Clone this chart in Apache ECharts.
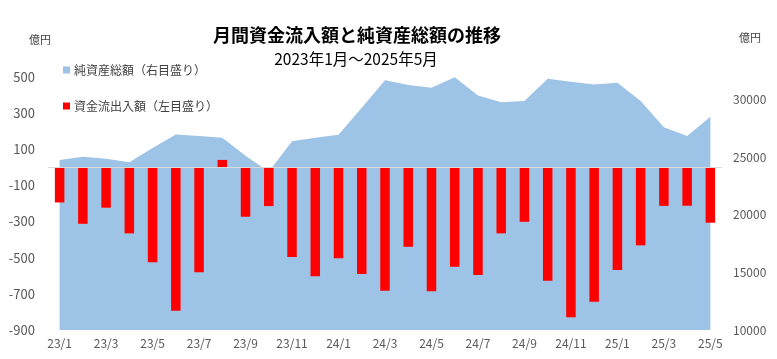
<!DOCTYPE html>
<html>
<head>
<meta charset="utf-8">
<script src="https://cdn.jsdelivr.net/npm/echarts@6/dist/echarts.min.js"></script>
<style>
html,body{margin:0;padding:0;background:#fff;}
#c{width:777px;height:359px;}
</style>
</head>
<body>
<div id="c"></div>
<script>
const categories = ['23/1','23/2','23/3','23/4','23/5','23/6','23/7','23/8','23/9','23/10','23/11','23/12',
  '24/1','24/2','24/3','24/4','24/5','24/6','24/7','24/8','24/9','24/10','24/11','24/12',
  '25/1','25/2','25/3','25/4','25/5'];
const flowValues = [-195,-313,-224,-366,-526,-793,-581,40,-274,-215,-497,-603,
  -504,-591,-683,-440,-686,-550,-596,-366,-302,-628,-830,-744,
  -569,-432,-214,-213,-307];
const assetValues = [24760,25050,24880,24580,25800,26990,26840,26700,25140,23750,26400,26700,
  26960,29300,31700,31270,31040,31950,30370,29790,29880,31820,31560,31330,
  31470,29880,27620,26840,28520];
const leftTicks = {min:-900, max:500, interval:200};
const rightTicks = {min:10000, max:32000, interval:5000};
const seriesNames = ['純資産総額（右目盛り）','資金流出入額（左目盛り）'];
const titleText = '月間資金流入額と純資産総額の推移';
const subtitleText = '2023年1月～2025年5月';
const unitText = '億円';

const FONT = '"Noto Sans CJK JP", "Noto Sans", sans-serif';
const chart = echarts.init(document.getElementById('c'));
chart.setOption({
  animation: false,
  textStyle: {fontFamily: FONT},
  graphic: [
    {type:'text', x:357, y:35, style:{text:titleText, fontFamily:FONT, fontSize:18, fontWeight:'bold', fill:'#000', align:'center', verticalAlign:'middle'}},
    {type:'text', x:356, y:59, style:{text:subtitleText, fontFamily:FONT, fontSize:15.5, fill:'#000', align:'center', verticalAlign:'middle'}},
    {type:'text', x:40, y:40, style:{text:unitText, fontFamily:FONT, fontSize:11, fill:'#404040', align:'center', verticalAlign:'middle'}},
    {type:'text', x:750, y:38, style:{text:unitText, fontFamily:FONT, fontSize:11, fill:'#404040', align:'center', verticalAlign:'middle'}}
  ],
  legend: {
    orient: 'vertical', left: 63, top: 63, padding: 0,
    itemWidth: 7, itemHeight: 7, itemGap: 22,
    icon: 'rect',
    data: seriesNames,
    textStyle: {fontFamily: FONT, fontSize: 12, color: '#404040', lineHeight: 14, padding:[0,0,0,-1]}
  },
  grid: {left: 48, right: 55, top: 76.7, bottom: 29, containLabel: false},
  xAxis: {
    type: 'category', data: categories, boundaryGap: true,
    axisLine: {show: false}, axisTick: {show: false},
    axisLabel: {interval: 1, fontSize: 12, color: '#595959', margin: 7, fontFamily: FONT}
  },
  yAxis: [
    {type: 'value', min: leftTicks.min, max: leftTicks.max, interval: leftTicks.interval,
     splitLine: {show: false}, axisLine: {show: false}, axisTick: {show: false},
     axisLabel: {fontSize: 13, color: '#595959', margin: 13, fontFamily: FONT}},
    {type: 'value', min: rightTicks.min, max: rightTicks.max, interval: rightTicks.interval,
     splitLine: {show: false}, axisLine: {show: false}, axisTick: {show: false},
     axisLabel: {fontSize: 12, color: '#595959', margin: 11, showMaxLabel: false, fontFamily: FONT,
       formatter: function (v) { return String(v); }}}
  ],
  series: [
    {name: seriesNames[0], type: 'line', yAxisIndex: 1, data: assetValues,
     symbol: 'none', lineStyle: {width: 0, color: '#9DC3E6'},
     itemStyle: {color: '#9DC3E6'},
     areaStyle: {color: '#9DC3E6', opacity: 1, origin: 'start'}, z: 1},
    {name: seriesNames[1], type: 'bar', yAxisIndex: 0, data: flowValues,
     barWidth: 9.5, itemStyle: {color: '#FF0000'}, z: 3,
     markLine: {silent: true, symbol: 'none', animation: false,
       label: {show: false},
       lineStyle: {color: '#D9D9D9', width: 1, type: 'solid'},
       data: [{yAxis: 0}]}}
  ]
});
</script>
</body>
</html>
